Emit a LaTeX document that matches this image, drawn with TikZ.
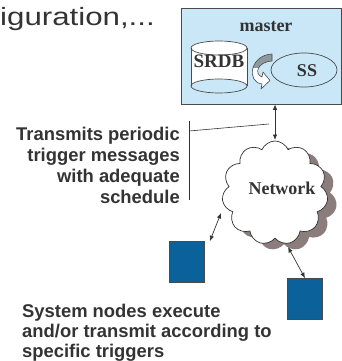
\documentclass[tikz,border=0pt]{standalone}
\usepackage{fontspec}
\setmainfont{Liberation Serif}
\setsansfont{Liberation Sans}
\usetikzlibrary{arrows.meta,shapes.symbols}
\definecolor{masterfill}{HTML}{C9E7F7}
\definecolor{boxline}{HTML}{4A4A4A}
\definecolor{nodeblue}{HTML}{0B6199}
\definecolor{txtgray}{HTML}{333333}
\definecolor{shadowbrown}{HTML}{8A7D7B}
\definecolor{arrowgray}{HTML}{8E999D}
\begin{document}
\begin{tikzpicture}[x=1pt,y=-1pt,
  serifbold/.style={font=\fontsize{18}{20}\selectfont\bfseries, text=txtgray, inner sep=0pt},
  sanslabel/.style={font=\sffamily\bfseries\fontsize{18.4}{21}\selectfont, text=txtgray, inner sep=0pt},
  link/.style={draw=txtgray, line width=0.7pt, {Latex[length=5.5pt,width=4.5pt]}-{Latex[length=5.5pt,width=4.5pt]}},
  callout/.style={draw=txtgray, line width=0.6pt},
  sysnode/.style={draw=boxline, fill=nodeblue, line width=0.7pt, minimum width=35pt, minimum height=41pt, inner sep=0pt},
  netcloud/.style={cloud, cloud puffs=11, cloud puff arc=135, aspect=1.0, minimum width=106pt, minimum height=104pt, inner sep=0pt}
]
\useasboundingbox (0,0) rectangle (342,361);

% heading fragment
\node[anchor=base west, inner sep=0pt, text=txtgray, font=\sffamily\fontsize{25}{28}\selectfont] (head) at (0,26) {\scalebox{1.25}[1]{iguration,...}};

% master station
\node[draw=boxline, fill=masterfill, line width=0.8pt, minimum width=160pt, minimum height=96pt, inner sep=0pt] (master) at (261,56) {};
\node[serifbold] (mlabel) at (266,27) {master};

% SRDB cylinder
\fill[white] (191,48) -- (191,86) arc[start angle=180, end angle=360, x radius=28, y radius=7] -- (247,48) -- cycle;
\draw[boxline, line width=0.7pt, fill=white] (219,48) ellipse[x radius=28, y radius=7];
\draw[boxline, line width=0.7pt] (191,48) -- (191,86) (247,48) -- (247,86);
\draw[boxline, line width=0.7pt] (219,86) ellipse[x radius=28, y radius=7];
\node[serifbold, font=\fontsize{19}{20}\selectfont\bfseries] (srdb) at (219,61) {SRDB};

% SS ellipse
\draw[boxline, line width=0.7pt] (304,70) ellipse[x radius=33, y radius=17];
\node[serifbold] (ss) at (307,71) {SS};

% curved transfer arrow between SRDB and SS
\def\turnarrow{(272,54) .. controls (250,55) and (246,82) .. (262,84) -- (261,89) -- (270,80.5) -- (263,72) -- (262,77) .. controls (254,74) and (257,62) .. (272,61) -- cycle}
\fill[white] \turnarrow;
\begin{scope}
  \clip (240,40) rectangle (280,67);
  \fill[arrowgray] \turnarrow;
\end{scope}
\draw[boxline, line width=0.6pt, line join=round] \turnarrow;

% network cloud with shadow
\node[netcloud, fill=shadowbrown] (netshadow) at (284,199) {};
\node[netcloud, fill=white, draw=txtgray, line width=0.7pt] (net) at (275,193) {};
\node[serifbold] (netlabel) at (282,188) {Network};

% system nodes
\node[sysnode] (n1) at (187,262) {};
\node[sysnode] (n2) at (305,299) {};

% links
\coordinate (mtop) at (275,140);
\draw[link] (master.south -| mtop) -- (mtop);
\coordinate (c1) at (221,213);
\draw[link] (n1.north east) ++(5,0) coordinate (n1a) (n1a) -- (c1);
\coordinate (c2) at (288,247);
\draw[link] (c2) -- (n2.north);

% callout bracket
\coordinate (bt) at (189,121);
\coordinate (bb) at (189,200);
\coordinate (bm) at (189,131);
\coordinate (be) at (269,124);
\draw[callout] (bt) -- (bb);
\draw[callout] (bm) -- (be);

% labels
\node[sanslabel, anchor=base east] (t1) at (180,140) {Transmits periodic};
\node[sanslabel, anchor=base east] (t2) at (180,161) {trigger messages};
\node[sanslabel, anchor=base east] (t3) at (180,182) {with adequate};
\node[sanslabel, anchor=base east] (t4) at (180,203) {schedule};

\node[sanslabel, anchor=base west] (b1) at (22,317) {System nodes execute};
\node[sanslabel, anchor=base west] (b2) at (22,337) {and/or transmit according to};
\node[sanslabel, anchor=base west] (b3) at (22,357) {specific triggers};
\end{tikzpicture}
\end{document}
